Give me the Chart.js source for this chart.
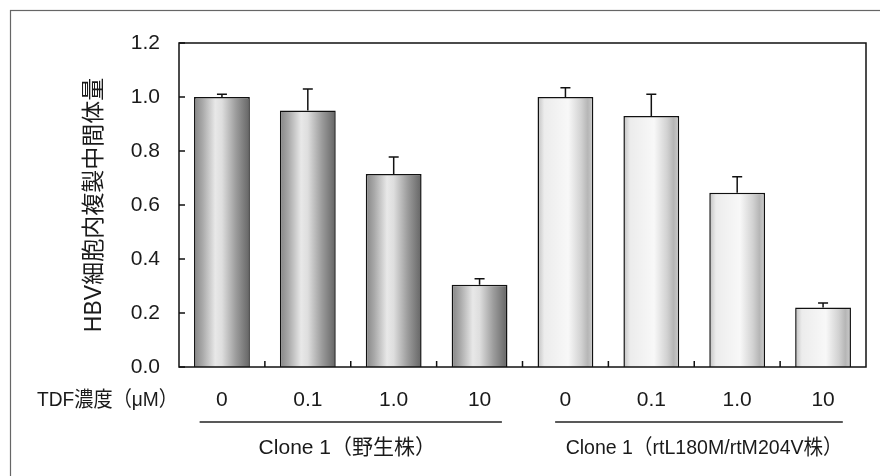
<!DOCTYPE html>
<html><head><meta charset="utf-8">
<script src="https://cdn.jsdelivr.net/npm/chart.js@4.4.1/dist/chart.umd.min.js"></script>
<style>html,body{margin:0;padding:0;background:#fff;}canvas{display:block;}</style>
</head><body>
<div style="width:880px;height:476px;position:relative"><canvas id="c" width="880" height="476"></canvas></div>
<script>
const categories = ['0', '0.1', '1.0', '10', '0', '0.1', '1.0', '10'];
const values = [1.00, 0.95, 0.715, 0.305, 1.00, 0.93, 0.645, 0.22];
const errors = [0.01, 0.08, 0.063, 0.022, 0.034, 0.08, 0.06, 0.017];
const groupLabels = ['Clone 1（野生株）', 'Clone 1（rtL180M/rtM204V株）'];
const groupStart = [0, 4];
const groupEnd = [3, 7];
const yTicks = [0, 0.2, 0.4, 0.6, 0.8, 1.0, 1.2];
const yTitle = 'HBV細胞内複製中間体量';
const xTitle = 'TDF濃度（μM）';

const FONT = "'Liberation Sans', 'Noto Sans CJK JP', Arial, sans-serif";
const TXT = '#1a1a1a';
const BAR_PCT = 0.65;

function groupOf(i) { return i >= groupStart[1] ? 1 : 0; }

function barFill(ctx) {
  const chart = ctx.chart, xs = chart.scales.x, area = chart.chartArea;
  if (!area || !xs) return '#bbbbbb';
  const i = ctx.dataIndex;
  const cx = xs.getPixelForValue(i);
  const w = (area.right - area.left) / categories.length * BAR_PCT;
  const g = chart.ctx.createLinearGradient(cx - w / 2, 0, cx + w / 2, 0);
  if (groupOf(i) === 0) {
    g.addColorStop(0, '#858585');
    g.addColorStop(0.15, '#a8a8a8');
    g.addColorStop(0.38, '#e8e8e8');
    g.addColorStop(0.5, '#dedede');
    g.addColorStop(0.75, '#9c9c9c');
    g.addColorStop(1, '#646464');
  } else {
    g.addColorStop(0, '#c0c0c0');
    g.addColorStop(0.12, '#ececec');
    g.addColorStop(0.55, '#f8f8f8');
    g.addColorStop(0.78, '#d2d2d2');
    g.addColorStop(0.9, '#b6b6b6');
    g.addColorStop(1, '#cdcdcd');
  }
  return g;
}

const decor = {
  id: 'decor',
  beforeDraw(chart) {
    const c = chart.ctx;
    c.save();
    c.strokeStyle = '#666';
    c.lineWidth = 1.2;
    c.strokeRect(10.5, 10.5, 900, 500);
    c.restore();
  },
  afterDatasetsDraw(chart) {
    const c = chart.ctx, xs = chart.scales.x, ys = chart.scales.y, a = chart.chartArea;
    const cat = (a.right - a.left) / categories.length;
    c.save();
    c.strokeStyle = '#111';
    c.lineWidth = 1.5;
    c.beginPath();
    values.forEach((v, i) => {
      const x = xs.getPixelForValue(i);
      const y0 = ys.getPixelForValue(v);
      const y1 = ys.getPixelForValue(v + errors[i]);
      c.moveTo(x, y0); c.lineTo(x, y1);
      c.moveTo(x - 5, y1); c.lineTo(x + 5, y1);
    });
    yTicks.forEach(t => {
      const y = ys.getPixelForValue(t);
      c.moveTo(a.left, y); c.lineTo(a.left + 6, y);
    });
    for (let i = 0; i < categories.length - 1; i++) {
      const x = (xs.getPixelForValue(i) + xs.getPixelForValue(i + 1)) / 2;
      c.moveTo(x, a.bottom); c.lineTo(x, a.bottom - 6);
    }
    c.stroke();
    c.strokeRect(a.left, a.top, a.right - a.left, a.bottom - a.top);

    // x title
    c.fillStyle = TXT;
    c.font = '21px ' + FONT;
    c.textAlign = 'right';
    c.textBaseline = 'middle';
    c.fillText(xTitle, a.left - 1, a.bottom + 33, 141);

    // group lines + labels
    c.lineWidth = 1.3;
    c.strokeStyle = '#222';
    const offL = [0.26, 0.12], offR = [0.26, 0.23];
    const labShift = [-0.04, 0.06], labMax = [178, 277];
    groupLabels.forEach((lab, g) => {
      const x0 = xs.getPixelForValue(groupStart[g]) - cat * offL[g];
      const x1 = xs.getPixelForValue(groupEnd[g]) + cat * offR[g];
      c.beginPath();
      c.moveTo(x0, a.bottom + 55); c.lineTo(x1, a.bottom + 55);
      c.stroke();
      c.textAlign = 'center';
      c.fillText(lab, (x0 + x1) / 2 + cat * labShift[g], a.bottom + 81, labMax[g]);
    });
    c.restore();
  }
};

new Chart(document.getElementById('c'), {
  type: 'bar',
  data: {
    labels: categories,
    datasets: [{
      data: values,
      backgroundColor: barFill,
      borderColor: '#111',
      borderWidth: 1.5,
      borderSkipped: 'bottom',
      barPercentage: BAR_PCT,
      categoryPercentage: 1.0
    }]
  },
  options: {
    responsive: false,
    animation: false,
    devicePixelRatio: 1,
    layout: { padding: { left: 0, right: 14, top: 43, bottom: 0 } },
    plugins: { legend: { display: false }, tooltip: { enabled: false } },
    scales: {
      x: {
        grid: { display: false, drawTicks: false },
        border: { display: false },
        ticks: { color: TXT, font: { family: FONT, size: 21 }, padding: 21, maxRotation: 0, autoSkip: false },
        afterFit(s) { s.height = 109; }
      },
      y: {
        min: 0, max: 1.2,
        afterBuildTicks(s) { s.ticks = yTicks.map(v => ({ value: v })); },
        grid: { display: false, drawTicks: false },
        border: { display: false },
        ticks: { color: TXT, font: { family: FONT, size: 21 }, padding: 19, callback: v => Number(v).toFixed(1) },
        title: { display: true, text: yTitle, color: TXT, font: { family: FONT, size: 23 }, padding: { top: 81 } },
        afterFit(s) { s.width = 179; }
      }
    }
  },
  plugins: [decor]
});
</script>
</body></html>
